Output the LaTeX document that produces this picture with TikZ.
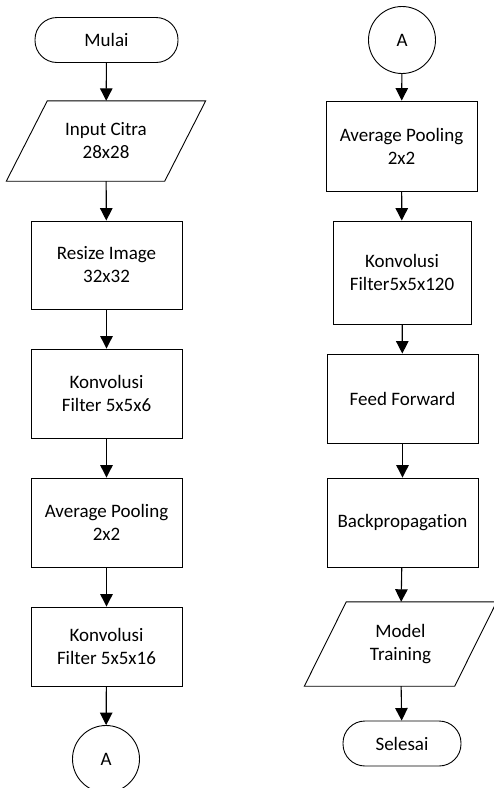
\documentclass[tikz,border=0pt]{standalone}
\usepackage{fontspec}
\setmainfont{Carlito}[Ligatures=NoCommon]
\usetikzlibrary{arrows.meta,calc}
\begin{document}
\begin{tikzpicture}[x=1pt,y=-1pt,
  font=\fontsize{19}{23}\selectfont,
  shape line/.style={line width=0.9pt},
  procbox/.style={draw, shape line, rectangle, minimum width=151pt, minimum height=89pt, align=center, inner sep=0pt},
  termbox/.style={draw, shape line, rectangle, rounded corners=22pt, minimum height=45pt, align=center, inner sep=0pt},
  connector/.style={draw, shape line, circle, minimum size=67pt, inner sep=0pt},
  iobox/.style={rectangle, minimum height=80pt, align=center, inner sep=0pt},
  flow/.style={-{Triangle[length=12.5pt,width=12.5pt]}, line width=1.1pt}]
\useasboundingbox (0,0) rectangle (494,788);

% left column
\node[termbox, minimum width=143pt] (mulai) at (106.5,40) {Mulai};
\node[iobox, minimum width=158pt] (input) at (106,141) {Input Citra\\28x28};
\draw[shape line] ($(input.south west)+(-20.5,0)$) -- ($(input.south east)+(-20.5,0)$)
  -- ($(input.north east)+(20.5,0)$) -- ($(input.north west)+(20.5,0)$) -- cycle;
\node[procbox, minimum height=88pt] (resize) at (106.5,265) {Resize Image\\32x32};
\node[procbox] (konv6) at (106.5,393.5) {Konvolusi\\Filter 5x5x6};
\node[procbox] (avg1) at (106.5,522.5) {Average Pooling\\2x2};
\node[procbox, minimum height=79pt] (konv16) at (106.5,646.5) {Konvolusi\\Filter 5x5x16};
\node[connector] (outA) at (106,759) {A};

% right column
\node[connector] (inA) at (402,40) {A};
\node[procbox, minimum height=90pt] (avg2) at (401.5,146) {Average Pooling\\2x2};
\node[procbox, minimum width=138pt, minimum height=103pt] (konv120) at (402,272.5) {Konvolusi\\Filter5x5x120};
\node[procbox] (ff) at (402.5,398.5) {Feed Forward};
\node[procbox] (bp) at (402.5,522.5) {Backpropagation};
\node[iobox, minimum width=150pt, minimum height=84pt] (model) at (400.5,644) {Model\\Training};
\draw[shape line] ($(model.south west)+(-21,0)$) -- ($(model.south east)+(-21,0)$)
  -- ($(model.north east)+(21,0)$) -- ($(model.north west)+(21,0)$) -- cycle;
\node[termbox, minimum width=118pt] (selesai) at (402,743.5) {Selesai};

% connectors
\draw[flow] (mulai) -- (input);
\draw[flow] (input) -- (resize);
\draw[flow] (resize) -- (konv6);
\draw[flow] (konv6) -- (avg1);
\draw[flow] (avg1) -- (konv16);
\draw[flow] (konv16) -- (outA);
\draw[flow] (inA) -- (avg2);
\draw[flow] (avg2) -- (konv120);
\draw[flow] (konv120) -- (ff);
\draw[flow] (ff) -- (bp);
\draw[flow] (bp) -- (model);
\draw[flow] (model) -- (selesai);
\end{tikzpicture}
\end{document}
